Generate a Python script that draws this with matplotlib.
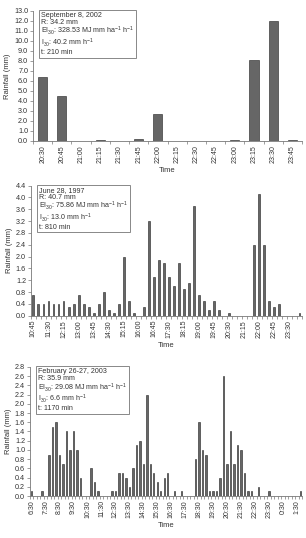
import numpy as np
import matplotlib
matplotlib.use("Agg")
import matplotlib.pyplot as plt
from matplotlib.ticker import MultipleLocator, FormatStrFormatter

plt.rcParams['font.family'] = ['Liberation Sans', 'DejaVu Sans']
plt.rcParams['mathtext.default'] = 'regular'

# --- data ---
times1 = ["20:30", "20:45", "21:00", "21:15", "21:30", "21:45", "22:00",
          "22:15", "22:30", "22:45", "23:00", "23:15", "23:30", "23:45"]
rain1 = [6.4, 4.5, 0.0, 0.1, 0.0, 0.2, 2.7, 0.0, 0.0, 0.0, 0.1, 8.1, 12.0, 0.1]

labels2 = ["10:45", "11:30", "12:15", "13:00", "13:45", "14:30", "15:15", "16:00", "16:45",
           "17:30", "18:15", "19:00", "19:45", "20:30", "21:15", "22:00", "22:45", "23:30"]
rain2 = [0.7, 0.4, 0.4, 0.5, 0.4, 0.4, 0.5, 0.3, 0.4, 0.7,
         0.4, 0.3, 0.1, 0.4, 0.8, 0.2, 0.1, 0.4, 2.0, 0.5,
         0.1, 0.0, 0.3, 3.2, 1.3, 1.9, 1.8, 1.3, 1.0, 1.8,
         0.9, 1.1, 3.7, 0.7, 0.5, 0.2, 0.5, 0.2, 0.0, 0.1,
         0.0, 0.0, 0.0, 0.0, 2.4, 4.1, 2.4, 0.5, 0.3, 0.4,
         0.0, 0.0, 0.0, 0.1]

labels3 = ["6:30", "7:30", "8:30", "9:30", "10:30", "11:30", "12:30", "13:30", "14:30", "15:30",
           "16:30", "17:30", "18:30", "19:30", "20:30", "21:30", "22:30", "23:30", "0:30", "1:30"]
rain3 = [0.1, 0.0, 0.0, 0.1, 0.0, 0.9, 1.5, 1.6, 0.9, 0.7,
         1.4, 1.0, 1.4, 1.0, 0.4, 0.0, 0.0, 0.6, 0.3, 0.1,
         0.0, 0.0, 0.0, 0.1, 0.1, 0.5, 0.5, 0.4, 0.2, 0.6,
         1.1, 1.2, 0.7, 2.2, 0.7, 0.5, 0.3, 0.1, 0.4, 0.5,
         0.0, 0.1, 0.0, 0.1, 0.0, 0.0, 0.0, 0.8, 1.6, 1.0,
         0.9, 0.1, 0.1, 0.1, 0.4, 2.6, 0.7, 1.4, 0.7, 1.1,
         1.0, 0.5, 0.1, 0.1, 0.0, 0.2, 0.0, 0.0, 0.1, 0.0,
         0.0, 0.0, 0.0, 0.0, 0.0, 0.0, 0.0, 0.1]

info1 = ("September 8, 2002\nR: 34.2 mm\nEI$_{30}$: 328.53 MJ mm ha$^{-1}$ h$^{-1}$\n"
         "I$_{30}$: 40.2 mm h$^{-1}$\nt: 210 min")
info2 = ("June 28, 1997\nR: 40.7 mm\nEI$_{30}$: 75.86 MJ mm ha$^{-1}$ h$^{-1}$\n"
         "I$_{30}$: 13.0 mm h$^{-1}$\nt: 810 min")
info3 = ("February 26-27, 2003\nR: 35.9 mm\nEI$_{30}$: 29.08 MJ mm ha$^{-1}$ h$^{-1}$\n"
         "I$_{30}$: 6.6 mm h$^{-1}$\nt: 1170 min")

txt = '#333333'
fig = plt.figure(figsize=(3.06, 5.38), dpi=100)


def panel(rect, vals, labels, step, ymax, ystep, width, info):
    ax = fig.add_axes(rect)
    x = np.arange(len(vals))
    ax.bar(x, vals, width=width, color='#666666', edgecolor='#222222', linewidth=0.4)
    ax.set_xlim(-0.5, len(vals) - 0.5)
    ax.set_ylim(0, ymax)
    ax.yaxis.set_major_locator(MultipleLocator(ystep))
    ax.yaxis.set_major_formatter(FormatStrFormatter('%.1f'))
    ax.set_xticks(x[::step])
    ax.set_xticklabels(labels, rotation=90)
    ax.set_xticks(np.arange(len(vals) + 1) - 0.5, minor=True)
    ax.tick_params(axis='x', which='major', length=0, pad=3, labelsize=5, labelcolor=txt)
    ax.tick_params(axis='x', which='minor', length=2, width=0.5, color='#777777')
    ax.tick_params(axis='y', length=2, width=0.5, pad=1.5, labelsize=5.2,
                   labelcolor=txt, color='#777777')
    for s in ['top', 'right']:
        ax.spines[s].set_visible(False)
    for s in ['left', 'bottom']:
        ax.spines[s].set_color('#777777')
        ax.spines[s].set_linewidth(0.6)
    ax.set_ylabel('Rainfall (mm)', fontsize=5.5, color=txt, labelpad=2)
    ax.set_xlabel('Time', fontsize=5.5, color=txt, labelpad=3)
    ax.text(0.03, 0.99, info, transform=ax.transAxes, va='top', ha='left',
            fontsize=5.1, color=txt, linespacing=0.92,
            bbox=dict(boxstyle='square,pad=0.25', fc='white', ec='#888888', lw=0.7))
    return ax


panel([0.108, 0.738, 0.879, 0.242], rain1, times1, 1, 13.0, 1.0, 0.47, info1)
panel([0.101, 0.413, 0.886, 0.242], rain2, labels2, 3, 4.4, 0.4, 0.38, info2)
panel([0.098, 0.078, 0.889, 0.240], rain3, labels3, 4, 2.8, 0.2, 0.4, info3)

fig.savefig('out.png', dpi=100)
